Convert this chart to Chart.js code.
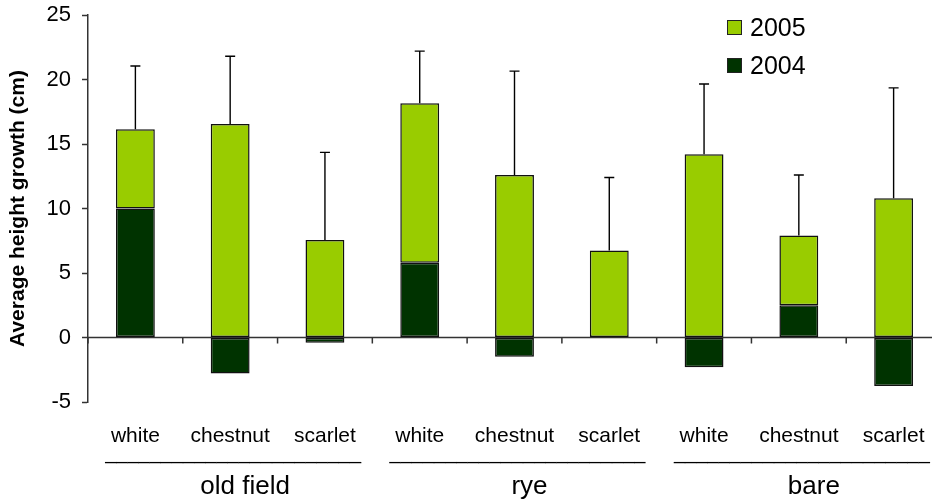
<!DOCTYPE html>
<html>
<head>
<meta charset="utf-8">
<script src="https://cdn.jsdelivr.net/npm/chart.js@4/dist/chart.umd.min.js"></script>
<style>
  html, body { margin: 0; padding: 0; background: #fff; overflow: hidden; }
  #wrap { width: 950px; height: 500px; position: relative; }
</style>
</head>
<body>
<div id="wrap"><canvas id="grafico"></canvas></div>
<script>
// categories and groups
const species = ['white', 'chestnut', 'scarlet', 'white', 'chestnut', 'scarlet', 'white', 'chestnut', 'scarlet'];
const groups = ['old field', 'rye', 'bare'];
const perGroup = 3;

// height growth (cm), stacked: 2005 sits on top of 2004
const growth2004 = [10.0, -2.8, -0.4, 5.8, -1.5, 0, -2.3, 2.5, -3.75];
const growth2005 = [6.15, 16.55, 7.55, 12.35, 12.6, 6.75, 14.2, 5.4, 10.8];
// upper error bar on the 2005 series
const err2005 = [4.9, 5.25, 6.8, 4.05, 8.05, 5.65, 5.45, 4.7, 8.55];

const yTicks = { min: -5, max: 25, step: 5 };

const FONT = '"Liberation Sans", Arial, Helvetica, sans-serif';
const AXIS = '#333333';

const extras = {
  id: 'extras',
  beforeDatasetsDraw(chart) {
    const ctx = chart.ctx;
    const x = chart.scales.x, y = chart.scales.y;
    const area = chart.chartArea;
    const y0 = y.getPixelForValue(0);
    const half = (x.getPixelForValue(1) - x.getPixelForValue(0)) / 2;
    ctx.save();
    ctx.strokeStyle = AXIS;
    ctx.lineWidth = 1.5;
    ctx.beginPath();
    ctx.moveTo(area.left, y0);
    ctx.lineTo(area.right, y0);
    for (let i = 0; i <= species.length; i++) {
      const bx = x.getPixelForValue(0) - half + i * half * 2;
      ctx.moveTo(bx, y0);
      ctx.lineTo(bx, y0 + 6);
    }
    ctx.stroke();
    ctx.restore();
  },
  afterDatasetsDraw(chart) {
    const ctx = chart.ctx;
    const y = chart.scales.y;
    const meta = chart.getDatasetMeta(1);
    ctx.save();
    ctx.strokeStyle = '#000';
    ctx.lineWidth = 1.4;
    meta.data.forEach((bar, i) => {
      const top = Math.max(0, growth2004[i]) + growth2005[i];
      const yt = y.getPixelForValue(top + err2005[i]);
      ctx.beginPath();
      ctx.moveTo(bar.x, bar.y);
      ctx.lineTo(bar.x, yt);
      ctx.moveTo(bar.x - 5, yt);
      ctx.lineTo(bar.x + 5, yt);
      ctx.stroke();
    });
    ctx.restore();
  },
  afterDraw(chart) {
    const ctx = chart.ctx;
    const x = chart.scales.x;
    ctx.save();
    ctx.fillStyle = '#000';
    // group labels with underscore rule
    groups.forEach((g, k) => {
      const c = (x.getPixelForValue(k * perGroup) + x.getPixelForValue(k * perGroup + perGroup - 1)) / 2;
      ctx.font = '20px ' + FONT;
      ctx.textAlign = 'center';
      ctx.textBaseline = 'alphabetic';
      const n = Math.round(256 / ctx.measureText('_').width);
      ctx.fillText('_'.repeat(n), c + 3, 459);
      ctx.font = '26px ' + FONT;
      ctx.fillText(g, c + 15, 494);
    });
    // legend, top series first
    const order = [1, 0];
    order.forEach((d, k) => {
      const ds = chart.data.datasets[d];
      const by = 20 + k * 38;
      ctx.fillStyle = ds.backgroundColor;
      ctx.fillRect(727, by, 15, 15);
      ctx.strokeStyle = '#222';
      ctx.lineWidth = 1;
      ctx.strokeRect(727.5, by + 0.5, 14, 14);
      ctx.fillStyle = '#000';
      ctx.font = '25px ' + FONT;
      ctx.textAlign = 'left';
      ctx.textBaseline = 'alphabetic';
      ctx.fillText(ds.label, 750, by + 16);
    });
    ctx.restore();
  }
};

new Chart(document.getElementById('grafico'), {
  type: 'bar',
  data: {
    labels: species,
    datasets: [{
      label: '2004',
      data: growth2004,
      backgroundColor: '#003300',
      borderColor: '#111111',
      borderWidth: 1.5,
      borderSkipped: false
    }, {
      label: '2005',
      data: growth2005,
      backgroundColor: '#99CC00',
      borderColor: '#111111',
      borderWidth: 1.5,
      borderSkipped: false
    }]
  },
  options: {
    responsive: true,
    maintainAspectRatio: false,
    animation: false,
    datasets: { bar: { categoryPercentage: 1, barPercentage: 0.41 } },
    layout: { padding: { top: 15, right: 9, left: 0, bottom: 0 } },
    plugins: {
      legend: { display: false },
      tooltip: { enabled: false }
    },
    scales: {
      x: {
        stacked: true,
        grid: { display: false, drawTicks: false },
        border: { display: false },
        ticks: { color: '#000', font: { family: FONT, size: 21 }, padding: 22, maxRotation: 0 },
        afterFit(s) { s.height = 98; }
      },
      y: {
        stacked: true,
        min: yTicks.min,
        max: yTicks.max,
        ticks: { stepSize: yTicks.step, color: '#000', font: { family: FONT, size: 22 }, padding: 11 },
        grid: { drawOnChartArea: false, drawTicks: true, tickLength: 6, tickColor: AXIS, tickWidth: 1.5 },
        border: { color: AXIS, width: 1.5 },
        title: {
          display: true,
          text: 'Average height growth (cm)',
          color: '#000',
          font: { family: FONT, size: 21, weight: 'bold' },
          padding: { top: 6, bottom: 0 }
        },
        afterFit(s) {
          s.width = 88;
          s.paddingTop = 0;
          s.paddingBottom = 0;
        }
      }
    }
  },
  plugins: [extras]
});
</script>
</body>
</html>
